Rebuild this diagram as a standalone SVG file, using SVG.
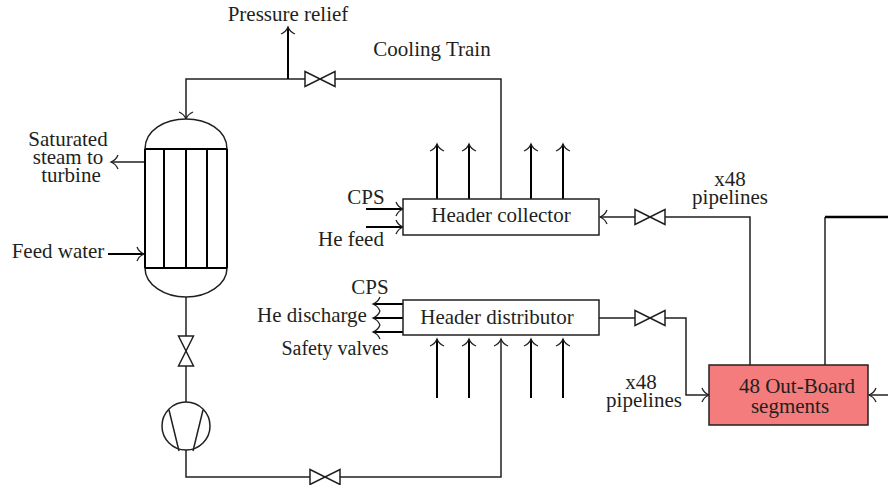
<svg xmlns="http://www.w3.org/2000/svg" width="888" height="485" viewBox="0 0 888 485">
<style>
text{font-family:"Liberation Serif","Times New Roman",serif;font-size:21px;fill:#231f20;text-anchor:middle}
.p{fill:none;stroke:#231f20;stroke-width:1.5}
.b{fill:none;stroke:#000;stroke-width:2}
.s{fill:#fff;stroke:#231f20;stroke-width:1.5}
</style>
<defs>
<marker id="a" markerUnits="userSpaceOnUse" markerWidth="16" markerHeight="16" refX="13" refY="8" orient="auto"><path d="M6 1Q8 6 13 8Q8 10 6 15" fill="none" stroke="#231f20" stroke-width="1.300"/></marker>
<path id="v" d="M-15-7.500L15 7.500V-7.500L-15 7.500Z" fill="#fff" stroke="#231f20" stroke-width="1.500"/>
</defs>
<g id="connectors">
<path class="p" d="M288 79H186V119" marker-end="url(#a)"/>
<path class="p" d="M288 79H501V199"/>
<path class="b" d="M288 79V27" marker-end="url(#a)"/>
<path class="p" d="M145 162H111" marker-end="url(#a)"/>
<path class="b" d="M108 254H144" marker-end="url(#a)"/>
<path class="p" d="M186 297V402"/>
<path class="p" d="M186 450V477H501V339" marker-end="url(#a)"/>
<path class="b" d="M437 199V144" marker-end="url(#a)"/>
<path class="b" d="M469 199V144" marker-end="url(#a)"/>
<path class="b" d="M531 199V144" marker-end="url(#a)"/>
<path class="b" d="M563 199V144" marker-end="url(#a)"/>
<path class="b" d="M366 209H403" marker-end="url(#a)"/>
<path class="b" d="M366 227H403" marker-end="url(#a)"/>
<path class="b" d="M403 304H373" marker-end="url(#a)"/>
<path class="b" d="M403 318H373" marker-end="url(#a)"/>
<path class="b" d="M403 332H373" marker-end="url(#a)"/>
<path class="b" d="M437 398V339" marker-end="url(#a)"/>
<path class="b" d="M469 398V339" marker-end="url(#a)"/>
<path class="b" d="M531 398V339" marker-end="url(#a)"/>
<path class="b" d="M563 398V339" marker-end="url(#a)"/>
<path class="p" d="M750 365V217H600" marker-end="url(#a)"/>
<path class="p" d="M599 318H686V395H709" marker-end="url(#a)"/>
<path class="p" d="M825 365V217"/>
<path class="b" d="M825 217H888" style="stroke-width:2.500"/>
<path class="p" d="M888 395H869" marker-end="url(#a)"/>
</g>
<g id="valve-top"><use href="#v" x="320" y="79"/></g>
<g id="valve-bottom"><use href="#v" x="325" y="477"/></g>
<g id="valve-collector"><use href="#v" x="650" y="217"/></g>
<g id="valve-distributor"><use href="#v" x="650" y="318"/></g>
<g id="valve-vertical"><use href="#v" transform="translate(186 351) rotate(90)"/></g>
<g id="vessel">
<path class="s" d="M145 149C145 130 165 119 186 119C207 119 227 130 227 149V268C227 285 207 297 186 297C165 297 145 285 145 268Z"/>
<path class="b" d="M145 149H227M145 268H227M145 149V268M227 149V268M164 149V268M186 149V268M207 149V268"/>
</g>
<g id="pump">
<circle class="s" cx="186" cy="426" r="24"/>
<path class="p" d="M169 410L179 451M203 410L193 451"/>
</g>
<g id="header-collector"><rect class="s" x="403" y="199" width="196" height="36"/><text x="501" y="222">Header collector</text></g>
<g id="header-distributor"><rect class="s" x="403" y="300" width="196" height="35"/><text x="497" y="324">Header distributor</text></g>
<g id="segments"><rect x="709" y="365" width="159" height="60" fill="#f47c7c" stroke="#231f20" stroke-width="1.500"/><text><tspan x="797" y="393">48 Out-Board</tspan><tspan x="790" y="413">segments</tspan></text></g>
<g id="labels">
<text x="288" y="21">Pressure relief</text>
<text x="432" y="56">Cooling Train</text>
<text><tspan x="68" y="146">Saturated</tspan><tspan x="68" y="164">steam to</tspan><tspan x="71" y="182">turbine</tspan></text>
<text x="58" y="258">Feed water</text>
<text x="366" y="204">CPS</text>
<text x="351" y="246">He feed</text>
<text x="370" y="294">CPS</text>
<text x="312" y="322">He discharge</text>
<text x="335" y="355" style="font-size:20px">Safety valves</text>
<text><tspan x="730" y="186">x48</tspan><tspan x="730" y="204">pipelines</tspan></text>
<text><tspan x="641" y="389">x48</tspan><tspan x="644" y="407">pipelines</tspan></text>
</g>
</svg>
